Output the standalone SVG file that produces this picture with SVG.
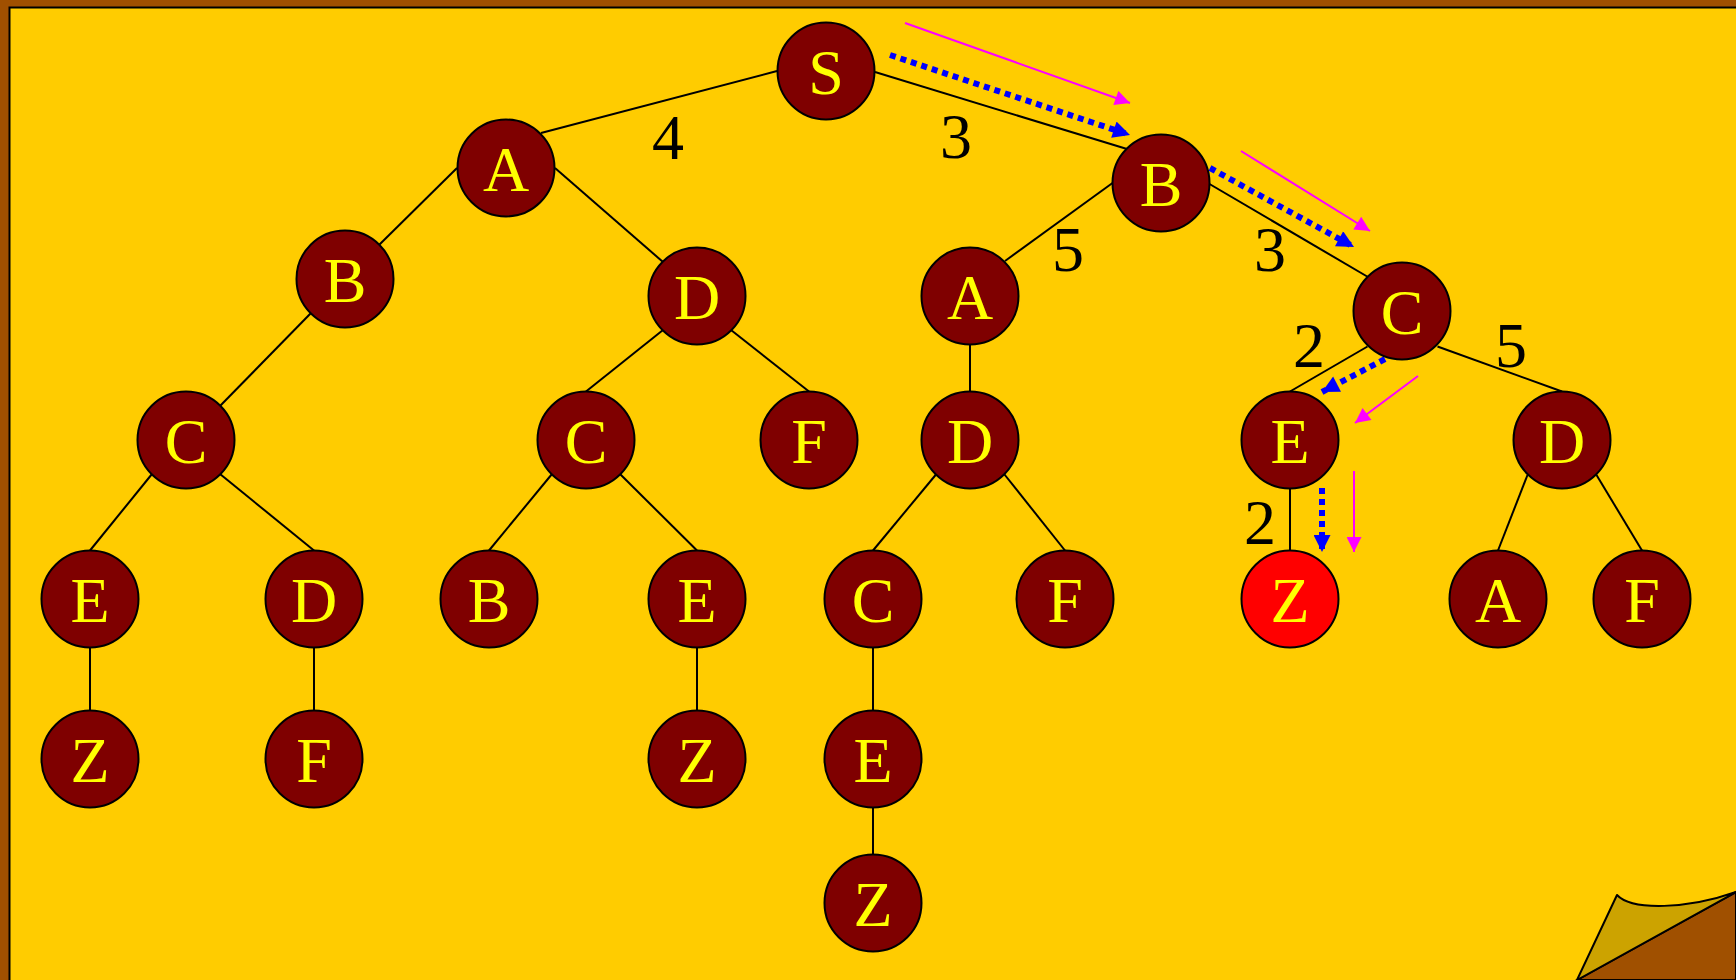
<svg xmlns="http://www.w3.org/2000/svg" width="1736" height="980" viewBox="0 0 1736 980">
<style>
.n circle{fill:#7F0000;stroke:#000;stroke-width:2}
.n circle.goal{fill:#FF0000}
.n text{fill:#FFFF00;font-family:'Liberation Serif','Times New Roman',Times,serif;font-size:64px;text-anchor:middle}
.w{fill:#000;font-family:'Liberation Serif','Times New Roman',Times,serif;font-size:64px;text-anchor:middle}
.e line{stroke:#000;stroke-width:2}
.e line.m{stroke:#FF00FF;stroke-width:2;fill:none}
.e line.b{stroke:#0000FF;stroke-width:6;stroke-dasharray:6 5;fill:none}
</style>
<defs>
<marker id="mh" viewBox="0 0 10 10" refX="10" refY="5" markerUnits="userSpaceOnUse" markerWidth="17" markerHeight="15" orient="auto"><path d="M0,0 L10,5 L0,10 Z" fill="#FF00FF"/></marker>
<marker id="bh" viewBox="0 0 10 10" refX="10" refY="5" markerUnits="userSpaceOnUse" markerWidth="19" markerHeight="17" orient="auto"><path d="M0,0 L10,5 L0,10 Z" fill="#0000FF"/></marker>
</defs>
<rect x="0" y="0" width="1736" height="980" fill="#A05000"/>
<rect x="9.5" y="7.5" width="1800" height="1050" fill="#FFCC00" stroke="#000" stroke-width="2"/>
<g id="curl">
<path d="M1577,980 L1736,892 L1736,980 Z" fill="#A05000" stroke="#000" stroke-width="2"/>
<path d="M1617,895 C1632,911 1688,909 1736,892 L1577,980 Z" fill="#CCA300" stroke="#000" stroke-width="2" stroke-linejoin="round"/>
</g>
<g id="connectors" class="e">
<line x1="777" y1="71" x2="541" y2="133"/>
<line x1="875" y1="72" x2="1127" y2="149"/>
<line x1="457" y1="168" x2="379" y2="245"/>
<line x1="555" y1="168" x2="663" y2="262"/>
<line x1="311" y1="313" x2="220" y2="406"/>
<line x1="663" y1="330" x2="586" y2="391.5"/>
<line x1="731" y1="330" x2="809" y2="391.5"/>
<line x1="152" y1="474" x2="90" y2="550.5"/>
<line x1="220" y1="474" x2="314" y2="550.5"/>
<line x1="552" y1="474" x2="489" y2="550.5"/>
<line x1="620" y1="474" x2="697" y2="550.5"/>
<line x1="90" y1="647.5" x2="90" y2="710.5"/>
<line x1="314" y1="647.5" x2="314" y2="710.5"/>
<line x1="697" y1="647.5" x2="697" y2="710.5"/>
<line x1="1112.5" y1="183" x2="1005" y2="261"/>
<line x1="1209.5" y1="184" x2="1368" y2="277"/>
<line x1="970" y1="344.5" x2="970" y2="391.5"/>
<line x1="936" y1="474.5" x2="873" y2="550.5"/>
<line x1="1004.5" y1="474.5" x2="1065" y2="550.5"/>
<line x1="873" y1="647.5" x2="873" y2="710.5"/>
<line x1="873" y1="807.5" x2="873" y2="854.5"/>
<line x1="1367.5" y1="346.5" x2="1290" y2="391.5"/>
<line x1="1437.5" y1="346.5" x2="1562" y2="391.5"/>
<line x1="1290" y1="488.5" x2="1290" y2="550.5"/>
<line x1="1527.5" y1="475" x2="1498" y2="550.5"/>
<line x1="1596.5" y1="475" x2="1642" y2="550.5"/>
<line class="m" x1="905" y1="23" x2="1130" y2="103" marker-end="url(#mh)"/>
<line class="b" x1="890" y1="55" x2="1130" y2="135" marker-end="url(#bh)"/>
<line class="m" x1="1241" y1="151" x2="1370" y2="231" marker-end="url(#mh)"/>
<line class="b" x1="1210" y1="168" x2="1354" y2="247" marker-end="url(#bh)"/>
<line class="b" x1="1385" y1="359" x2="1322" y2="392" marker-end="url(#bh)"/>
<line class="m" x1="1418" y1="376" x2="1355" y2="423" marker-end="url(#mh)"/>
<line class="b" x1="1322" y1="488" x2="1322" y2="552" marker-end="url(#bh)"/>
<line class="m" x1="1354" y1="471" x2="1354" y2="552" marker-end="url(#mh)"/>
</g>
<g id="weights">
<text class="w" x="668" y="159">4</text>
<text class="w" x="956" y="158">3</text>
<text class="w" x="1068" y="271">5</text>
<text class="w" x="1270" y="271">3</text>
<text class="w" x="1309" y="367">2</text>
<text class="w" x="1511" y="367">5</text>
<text class="w" x="1260" y="544">2</text>
</g>
<g id="n-S" class="n"><circle cx="826" cy="71" r="48.5"/><text x="826" y="94">S</text></g>
<g id="n-A1" class="n"><circle cx="506" cy="168" r="48.5"/><text x="506" y="191">A</text></g>
<g id="n-B1" class="n"><circle cx="345" cy="279" r="48.5"/><text x="345" y="302">B</text></g>
<g id="n-D1" class="n"><circle cx="697" cy="296" r="48.5"/><text x="697" y="319">D</text></g>
<g id="n-C1" class="n"><circle cx="186" cy="440" r="48.5"/><text x="186" y="463">C</text></g>
<g id="n-C2" class="n"><circle cx="586" cy="440" r="48.5"/><text x="586" y="463">C</text></g>
<g id="n-F1" class="n"><circle cx="809" cy="440" r="48.5"/><text x="809" y="463">F</text></g>
<g id="n-E1" class="n"><circle cx="90" cy="599" r="48.5"/><text x="90" y="622">E</text></g>
<g id="n-D2" class="n"><circle cx="314" cy="599" r="48.5"/><text x="314" y="622">D</text></g>
<g id="n-B2" class="n"><circle cx="489" cy="599" r="48.5"/><text x="489" y="622">B</text></g>
<g id="n-E2" class="n"><circle cx="697" cy="599" r="48.5"/><text x="697" y="622">E</text></g>
<g id="n-Z1" class="n"><circle cx="90" cy="759" r="48.5"/><text x="90" y="782">Z</text></g>
<g id="n-F2" class="n"><circle cx="314" cy="759" r="48.5"/><text x="314" y="782">F</text></g>
<g id="n-Z2" class="n"><circle cx="697" cy="759" r="48.5"/><text x="697" y="782">Z</text></g>
<g id="n-B3" class="n"><circle cx="1161" cy="183" r="48.5"/><text x="1161" y="206">B</text></g>
<g id="n-A2" class="n"><circle cx="970" cy="296" r="48.5"/><text x="970" y="319">A</text></g>
<g id="n-D3" class="n"><circle cx="970" cy="440" r="48.5"/><text x="970" y="463">D</text></g>
<g id="n-C3" class="n"><circle cx="873" cy="599" r="48.5"/><text x="873" y="622">C</text></g>
<g id="n-F3" class="n"><circle cx="1065" cy="599" r="48.5"/><text x="1065" y="622">F</text></g>
<g id="n-E3" class="n"><circle cx="873" cy="759" r="48.5"/><text x="873" y="782">E</text></g>
<g id="n-Z3" class="n"><circle cx="873" cy="903" r="48.5"/><text x="873" y="926">Z</text></g>
<g id="n-C4" class="n"><circle cx="1402" cy="311" r="48.5"/><text x="1402" y="334">C</text></g>
<g id="n-E4" class="n"><circle cx="1290" cy="440" r="48.5"/><text x="1290" y="463">E</text></g>
<g id="n-D4" class="n"><circle cx="1562" cy="440" r="48.5"/><text x="1562" y="463">D</text></g>
<g id="n-Z4" class="n"><circle class="goal" cx="1290" cy="599" r="48.5"/><text x="1290" y="622">Z</text></g>
<g id="n-A3" class="n"><circle cx="1498" cy="599" r="48.5"/><text x="1498" y="622">A</text></g>
<g id="n-F4" class="n"><circle cx="1642" cy="599" r="48.5"/><text x="1642" y="622">F</text></g>
</svg>
